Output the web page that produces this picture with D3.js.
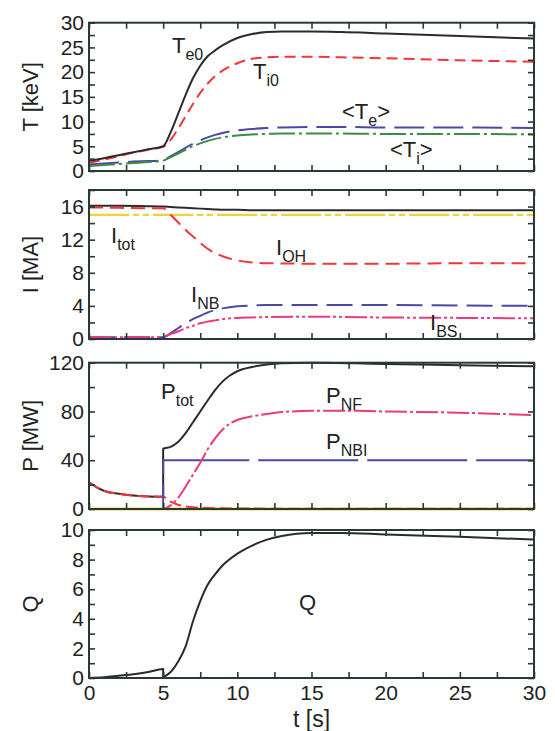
<!DOCTYPE html>
<html>
<head>
<meta charset="utf-8">
<title>Discharge evolution</title>
<script src="https://cdn.jsdelivr.net/npm/d3@7"></script>
<style>
body { margin: 0; background: #fff; }
text { font-family: "Liberation Sans", Arial, sans-serif; fill: #222; }
</style>
</head>
<body>
<svg id="chart" width="555" height="731"></svg>
<script>
// ---- data ----
// panel 1 : temperatures [keV]
var tT   = [0, 1, 2, 3, 4, 5, 5.5, 6, 6.5, 7, 7.5, 8, 8.5, 9, 10, 11, 12, 13, 15, 17, 20, 25, 30];
var Te0  = [2.0, 2.6, 3.2, 3.8, 4.4, 5.0, 7.8, 11.5, 15.3, 18.7, 21.3, 23.2, 24.4, 25.4, 26.9, 27.7, 28.1, 28.2, 28.2, 28.1, 27.8, 27.3, 26.8];
var Ti0  = [1.6, 2.3, 3.0, 3.7, 4.3, 4.9, 6.3, 8.5, 11.0, 13.5, 15.8, 17.7, 19.2, 20.3, 21.8, 22.7, 23.0, 23.1, 23.1, 23.0, 22.8, 22.4, 22.1];
var TeAv = [1.3, 1.5, 1.7, 1.9, 2.0, 2.2, 3.0, 3.8, 4.7, 5.5, 6.2, 6.8, 7.3, 7.7, 8.2, 8.5, 8.7, 8.8, 8.9, 8.9, 8.8, 8.8, 8.7];
var TiAv = [1.0, 1.2, 1.4, 1.6, 1.8, 2.1, 2.8, 3.5, 4.3, 5.0, 5.6, 6.1, 6.5, 6.8, 7.2, 7.4, 7.5, 7.6, 7.6, 7.6, 7.5, 7.5, 7.4];

// panel 2 : currents [MA]
var tI   = [0, 2, 4, 5, 5.5, 6, 6.5, 7, 7.5, 8, 8.5, 9, 10, 11, 12, 15, 20, 25, 30];
var Itot = [16.1, 16.1, 16.05, 16.0, 15.95, 15.9, 15.85, 15.8, 15.75, 15.7, 15.65, 15.6, 15.6, 15.55, 15.55, 15.55, 15.55, 15.55, 15.55];
var Iyel = [15.0, 15.0, 15.0, 15.0, 15.0, 15.0, 15.0, 15.0, 15.0, 15.0, 15.0, 15.0, 15.0, 15.0, 15.0, 15.0, 15.0, 15.0, 15.0];
var IOH  = [15.9, 15.85, 15.8, 15.8, 15.0, 14.1, 13.2, 12.4, 11.6, 10.9, 10.4, 10.0, 9.5, 9.25, 9.15, 9.1, 9.1, 9.15, 9.15];
var INB  = [0.2, 0.2, 0.2, 0.2, 0.7, 1.3, 1.9, 2.4, 2.8, 3.2, 3.5, 3.7, 3.95, 4.05, 4.1, 4.1, 4.1, 4.05, 4.0];
var IBS  = [0.2, 0.2, 0.2, 0.25, 0.6, 0.9, 1.3, 1.6, 1.9, 2.1, 2.25, 2.4, 2.55, 2.6, 2.65, 2.7, 2.6, 2.55, 2.5];
var Igr  = [0, 0, 0, 0, 0, 0, 0, 0, 0, 0, 0, 0, 0, 0, 0, 0, 0, 0, 0];

// panel 3 : powers [MW]
var tP    = [0, 0.5, 1, 2, 3, 4, 5, 5, 5.5, 6, 6.5, 7, 7.5, 8, 8.5, 9, 9.5, 10, 11, 12, 13, 15, 18, 20, 25, 30];
var Ptot  = [22, 18, 15, 12.5, 11, 10.3, 10, 49.5, 51, 55, 62, 71, 80, 89, 97.5, 104.5, 109.5, 113, 116.5, 118.5, 119.5, 120, 119.5, 119, 118, 117];
var PNBI  = [0, 0, 0, 0, 0, 0, 0, 40, 40, 40, 40, 40, 40, 40, 40, 40, 40, 40, 40, 40, 40, 40, 40, 40, 40, 40];
var PNF   = [0, 0, 0, 0, 0, 0, 0, 0, 3, 9, 18, 28, 38, 49, 58, 65, 70, 73, 76, 78, 79.5, 80.5, 80.5, 80, 79, 77];
var tPoh  = [0, 0.5, 1, 2, 3, 4, 5, 5.5, 6, 7, 8, 10, 15, 30];
var POH   = [22, 18, 15, 12.5, 11, 10.3, 10, 6, 3.5, 1.5, 0.8, 0.4, 0.2, 0.2];
var tBase = [0, 30];
var Pyel  = [0, 0];

// panel 4 : fusion gain
var tQ = [0, 1, 2, 3, 4, 5, 5, 5.5, 6, 6.5, 7, 7.5, 8, 8.5, 9, 10, 11, 12, 13, 14, 15, 17, 20, 25, 30];
var Q  = [0, 0.05, 0.15, 0.25, 0.4, 0.6, 0.1, 0.4, 1.1, 2.1, 3.8, 5.2, 6.3, 7.0, 7.6, 8.4, 8.95, 9.35, 9.6, 9.75, 9.8, 9.8, 9.7, 9.55, 9.35];

// axes ticks
var xTicks   = d3.range(0, 30.01, 2.5);
var xLabels  = [0, 5, 10, 15, 20, 25, 30];

// ---- layout ----
var svg = d3.select("#chart");
var left = 89, right = 534;
var col = { k: "#2b2b2b", r: "#f0363a", b: "#4a4aa6", g: "#3c8c46", y: "#f2d03a", p: "#ec3a7e" };

var x = d3.scaleLinear().domain([0, 30]).range([left, right]);

var panels = [
  { top: 22.7, bottom: 171, max: 30, minor: 2.5, major: 5, title: "T [keV]",
    series: [
      { t: tT, v: TeAv, c: col.b, d: "30,9", w: 2 },
      { t: tT, v: TiAv, c: col.g, d: "26,4,3,4", w: 2 },
      { t: tT, v: Ti0, c: col.r, d: "11,6", w: 2 },
      { t: tT, v: Te0, c: col.k, d: null, w: 2 }
    ] },
  { top: 190, bottom: 339, max: 18, minor: 2, major: 4, title: "I [MA]",
    series: [
      { t: tI, v: Igr, c: col.g, d: null, w: 2 },
      { t: tI, v: Iyel, c: col.y, d: "40,4,6,4,6,4", w: 2.2 },
      { t: tI, v: Itot, c: col.k, d: null, w: 2 },
      { t: tI, v: IOH, c: col.r, d: "14,7", w: 2 },
      { t: tI, v: INB, c: col.b, d: "26,9", w: 2 },
      { t: tI, v: IBS, c: col.p, d: "22,3,3,3,3,3", w: 2 }
    ] },
  { top: 362.7, bottom: 509, max: 120, minor: 20, major: 40, title: "P [MW]",
    series: [
      { t: tBase, v: Pyel, c: col.y, d: null, w: 3 },
      { t: tP, v: Ptot, c: col.k, d: null, w: 2 },
      { t: tPoh, v: POH, c: col.r, d: "12,5", w: 2 },
      { t: tP, v: PNBI, c: col.b, d: "74,0,26,9", w: 2 },
      { t: tP, v: PNF, c: col.p, d: "22,3,3,3", w: 2 }
    ] },
  { top: 530, bottom: 678, max: 10, minor: 1, major: 2, title: "Q",
    series: [
      { t: tQ, v: Q, c: col.k, d: null, w: 2 }
    ] }
];

panels.forEach(function(p, i) {
  var y = d3.scaleLinear().domain([0, p.max]).range([p.bottom, p.top]);
  var g = svg.append("g");
  var yTicks = d3.range(0, p.max + 0.001, p.minor);

  // curves
  var line = d3.line().x(function(d) { return x(d[0]); }).y(function(d) { return y(d[1]); })
    .curve(d3.curveMonotoneX);
  p.series.forEach(function(s) {
    var pts = s.t.map(function(t, k) { return [t, s.v[k]]; });
    g.append("path").attr("d", line(pts))
      .attr("fill", "none").attr("stroke", s.c).attr("stroke-width", s.w)
      .attr("stroke-dasharray", s.d);
  });

  // axes, ticks inside on every side
  var fmtY = function(d) { return (Math.abs(d / p.major - Math.round(d / p.major)) < 1e-6) ? d : ""; };
  g.append("g").attr("transform", "translate(" + left + ",0)")
    .call(d3.axisLeft(y).tickValues(yTicks).tickSizeInner(-6).tickSizeOuter(0).tickPadding(5).tickFormat(fmtY));
  g.append("g").attr("transform", "translate(" + right + ",0)")
    .call(d3.axisRight(y).tickValues(yTicks).tickSizeInner(-6).tickSizeOuter(0).tickFormat(""));
  g.append("g").attr("transform", "translate(0," + p.top + ")")
    .call(d3.axisTop(x).tickValues(xTicks).tickSizeInner(-6).tickSizeOuter(0).tickFormat(""));
  var bx = d3.axisBottom(x).tickValues(xTicks).tickSizeInner(-6).tickSizeOuter(0).tickPadding(7)
    .tickFormat(function(d) { return (i === 3 && xLabels.indexOf(d) >= 0) ? d : ""; });
  g.append("g").attr("transform", "translate(0," + p.bottom + ")").call(bx);

  g.selectAll(".domain").remove();
  g.selectAll(".tick line").attr("stroke", "#2a3a32").attr("stroke-width", 1.6);
  g.selectAll(".tick text").attr("font-size", 21).attr("fill", "#222")
    .attr("font-family", "'Liberation Sans', Arial, sans-serif");

  g.append("rect").attr("x", left).attr("y", p.top)
    .attr("width", right - left).attr("height", p.bottom - p.top)
    .attr("fill", "none").attr("stroke", "#2a3a32").attr("stroke-width", 2);

  // y title
  g.append("text").attr("transform", "translate(38," + ((p.top + p.bottom) / 2) + ") rotate(-90)")
    .attr("text-anchor", "middle").attr("font-size", 22).text(p.title);
});

// x title
svg.append("text").attr("x", (left + right) / 2).attr("y", 727)
  .attr("text-anchor", "middle").attr("font-size", 23).text("t [s]");

// curve labels
var labels = [
  { x: 172, y: 53, pre: "T", sub: "e0", post: "" },
  { x: 253, y: 79, pre: "T", sub: "i0", post: "" },
  { x: 342, y: 119, pre: "<T", sub: "e", post: ">" },
  { x: 390, y: 157, pre: "<T", sub: "i", post: ">" },
  { x: 111, y: 243, pre: "I", sub: "tot", post: "" },
  { x: 276, y: 255, pre: "I", sub: "OH", post: "" },
  { x: 191, y: 302, pre: "I", sub: "NB", post: "" },
  { x: 430, y: 330, pre: "I", sub: "BS", post: "" },
  { x: 161, y: 399, pre: "P", sub: "tot", post: "" },
  { x: 326, y: 403, pre: "P", sub: "NF", post: "" },
  { x: 326, y: 449, pre: "P", sub: "NBI", post: "" },
  { x: 299, y: 610, pre: "Q", sub: "", post: "" }
];
labels.forEach(function(l) {
  var t = svg.append("text").attr("x", l.x).attr("y", l.y).attr("font-size", 22);
  t.append("tspan").text(l.pre);
  if (l.sub) t.append("tspan").attr("dy", 7).attr("font-size", 16).text(l.sub);
  if (l.post) t.append("tspan").attr("dy", l.sub ? -7 : 0).text(l.post);
});
</script>
</body>
</html>
